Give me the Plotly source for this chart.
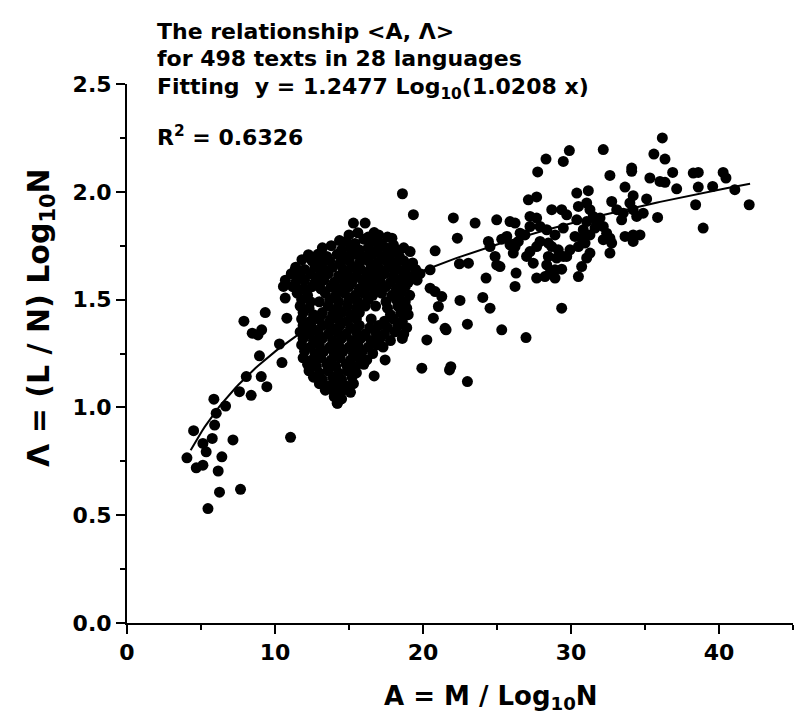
import plotly.graph_objects as go
import numpy as np

# ---- data ----
# left arm of the cloud (A < ~11.5)
low_points = [
    (8.46, 1.344), (8.85, 1.336), (9.10, 1.360), (7.90, 1.400), (10.30, 1.294),
    (8.95, 1.239), (10.47, 1.208), (8.06, 1.143), (9.07, 1.143), (9.45, 1.096),
    (7.60, 1.073), (8.39, 1.056), (5.87, 1.038), (6.66, 1.006), (6.03, 0.973),
    (5.92, 0.918), (4.50, 0.892), (5.76, 0.856), (5.13, 0.833), (7.16, 0.849),
    (5.35, 0.794), (4.05, 0.766), (6.41, 0.771), (5.13, 0.732), (4.68, 0.720),
    (6.16, 0.705), (6.25, 0.607), (7.67, 0.620), (5.47, 0.531), (11.05, 0.861),
    (9.34, 1.440), (10.80, 1.414), (10.57, 1.561), (10.69, 1.507), (11.36, 1.638),
    (11.82, 1.685), (12.26, 1.708),
]

# edge points around the dense core
core_edge_points = [
    (18.61, 1.991), (19.35, 1.894), (15.30, 1.855), (16.09, 1.855), (16.70, 1.811),
    (14.36, 1.774), (17.90, 1.785), (18.00, 1.754), (19.13, 1.723), (20.82, 1.726),
    (20.48, 1.638), (20.48, 1.553), (21.27, 1.514), (21.49, 1.367), (20.26, 1.313),
    (19.92, 1.182), (21.79, 1.174), (17.44, 1.220), (16.70, 1.146), (14.22, 1.019),
    (14.40, 1.073), (23.00, 1.120),
]

# dense core (A ~ 11-20)
core_points = [
    (15.0, 1.80), (15.6, 1.81), (16.3, 1.79), (17.0, 1.80), (17.6, 1.79),
    (14.8, 1.77), (15.4, 1.76), (16.0, 1.78), (16.6, 1.77), (17.2, 1.76),
    (13.2, 1.74), (13.8, 1.75), (14.5, 1.73), (15.1, 1.74), (15.7, 1.73), (16.3, 1.74),
    (16.9, 1.73), (17.5, 1.74), (18.2, 1.73), (18.7, 1.74),
    (12.9, 1.71), (13.5, 1.70), (14.2, 1.71), (14.8, 1.70), (15.4, 1.71), (16.0, 1.70),
    (16.6, 1.71), (17.2, 1.70), (17.8, 1.71), (18.4, 1.70),
    (12.5, 1.68), (13.1, 1.67), (13.7, 1.68), (14.4, 1.67), (15.0, 1.68), (15.7, 1.67),
    (16.3, 1.68), (16.9, 1.67), (17.5, 1.68), (18.1, 1.67), (18.7, 1.68), (19.3, 1.67),
    (11.4, 1.65), (12.0, 1.64), (12.7, 1.65), (13.3, 1.64), (13.9, 1.65), (14.6, 1.64),
    (15.2, 1.65), (15.8, 1.64), (16.5, 1.65), (17.1, 1.64), (17.7, 1.65), (18.3, 1.64),
    (18.9, 1.65), (19.5, 1.64),
    (11.1, 1.62), (11.7, 1.61), (12.4, 1.62), (13.0, 1.61), (13.6, 1.62), (14.3, 1.61),
    (14.9, 1.62), (15.5, 1.61), (16.2, 1.62), (16.8, 1.61), (17.4, 1.62), (18.0, 1.61),
    (18.7, 1.62), (19.3, 1.61), (19.8, 1.62),
    (10.7, 1.59), (11.4, 1.58), (12.0, 1.59), (12.7, 1.58), (13.3, 1.59), (14.0, 1.58),
    (14.6, 1.59), (15.2, 1.58), (15.9, 1.59), (16.5, 1.58), (17.1, 1.59), (17.8, 1.58),
    (18.4, 1.59), (19.0, 1.58), (19.6, 1.59),
    (11.2, 1.56), (11.9, 1.55), (12.5, 1.56), (13.1, 1.55), (13.8, 1.56), (14.4, 1.55),
    (15.0, 1.56), (15.7, 1.55), (16.3, 1.56), (16.9, 1.55), (17.5, 1.56), (18.2, 1.55),
    (18.8, 1.56),
    (11.5, 1.53), (12.2, 1.52), (13.4, 1.53), (14.1, 1.52), (14.7, 1.53), (15.4, 1.52),
    (16.0, 1.53), (16.6, 1.52), (17.2, 1.53), (17.9, 1.52), (18.5, 1.53), (19.1, 1.52),
    (11.8, 1.50), (12.4, 1.49), (13.0, 1.49), (13.7, 1.50), (14.3, 1.49), (15.0, 1.50),
    (15.6, 1.49), (16.3, 1.50), (17.5, 1.49), (18.2, 1.50), (18.8, 1.49),
    (11.7, 1.47), (12.3, 1.46), (13.6, 1.47), (14.2, 1.46), (14.9, 1.47), (15.5, 1.46),
    (16.1, 1.47), (16.8, 1.47), (17.6, 1.46), (18.3, 1.47), (18.9, 1.46),
    (11.9, 1.44), (12.6, 1.43), (13.2, 1.44), (13.9, 1.43), (14.5, 1.44), (15.1, 1.43),
    (15.7, 1.44), (17.8, 1.43), (18.5, 1.44), (19.0, 1.43),
    (11.8, 1.41), (12.4, 1.40), (13.0, 1.41), (13.7, 1.40), (14.3, 1.41), (14.9, 1.40),
    (15.5, 1.41), (16.5, 1.41), (17.4, 1.40), (18.0, 1.41), (18.6, 1.40),
    (11.9, 1.38), (12.5, 1.37), (13.2, 1.38), (13.8, 1.37), (14.4, 1.38), (15.1, 1.37),
    (15.7, 1.38), (16.4, 1.37), (17.0, 1.38), (17.6, 1.37), (18.3, 1.38), (18.9, 1.37),
    (11.7, 1.35), (12.3, 1.34), (12.9, 1.35), (13.6, 1.34), (14.2, 1.35), (14.8, 1.34),
    (15.5, 1.35), (16.1, 1.34), (16.8, 1.35), (17.4, 1.34), (18.1, 1.35), (18.7, 1.34),
    (11.9, 1.32), (12.6, 1.31), (13.2, 1.32), (13.9, 1.31), (14.5, 1.32), (15.2, 1.31),
    (15.8, 1.32), (16.5, 1.31), (17.1, 1.32), (17.8, 1.31), (18.6, 1.32),
    (11.8, 1.29), (12.4, 1.28), (13.0, 1.29), (13.7, 1.28), (14.3, 1.29), (15.0, 1.28),
    (15.6, 1.29), (16.3, 1.28), (16.9, 1.29), (17.3, 1.28),
    (12.0, 1.26), (12.7, 1.25), (13.3, 1.26), (14.0, 1.25), (14.6, 1.26), (15.3, 1.25),
    (15.9, 1.26), (16.6, 1.25),
    (11.9, 1.23), (12.5, 1.22), (13.1, 1.23), (13.8, 1.22), (14.4, 1.23), (15.1, 1.22),
    (15.7, 1.23), (16.2, 1.22),
    (12.2, 1.20), (12.8, 1.19), (13.5, 1.20), (14.1, 1.19), (14.8, 1.20), (15.4, 1.19),
    (16.0, 1.20),
    (12.3, 1.17), (13.0, 1.16), (13.6, 1.17), (14.3, 1.16), (14.9, 1.17), (15.5, 1.16),
    (12.6, 1.14), (13.2, 1.13), (13.9, 1.14), (14.5, 1.13), (15.2, 1.14),
    (13.0, 1.11), (13.6, 1.10), (14.2, 1.11), (14.8, 1.10), (15.3, 1.11),
    (13.4, 1.08), (14.0, 1.07), (14.6, 1.08), (15.1, 1.07),
    (14.0, 1.05), (14.5, 1.04), (14.2, 1.02),
]

# upper-right cloud (A > ~20)
high_points = [
    (36.17, 2.250), (29.89, 2.191), (28.31, 2.152), (29.48, 2.141), (32.18, 2.196),
    (35.60, 2.175), (36.35, 2.152), (27.75, 2.092), (32.63, 2.076), (34.10, 2.110),
    (34.10, 2.095), (36.87, 2.090), (38.26, 2.087), (38.60, 2.090), (40.28, 2.090),
    (40.47, 2.064), (35.33, 2.064), (36.01, 2.048), (36.35, 2.044), (37.14, 2.014),
    (38.60, 2.022), (39.57, 2.025), (41.07, 2.010), (42.04, 1.940), (38.42, 1.940),
    (38.93, 1.832), (33.65, 2.022), (31.17, 2.005), (30.39, 1.994), (35.11, 1.967),
    (34.20, 1.982), (35.85, 1.881), (27.12, 1.963), (27.68, 1.976), (22.05, 1.879),
    (23.52, 1.855), (24.98, 1.870), (25.88, 1.862), (26.22, 1.855), (22.32, 1.785),
    (22.46, 1.666), (23.07, 1.669), (24.42, 1.770), (24.53, 1.746), (24.87, 1.700),
    (24.98, 1.661), (25.20, 1.653), (24.26, 1.600), (26.29, 1.623), (26.22, 1.561),
    (22.50, 1.496), (24.04, 1.510), (24.53, 1.460), (25.32, 1.360), (26.96, 1.324),
    (29.37, 1.460), (23.00, 1.386), (21.56, 1.360), (21.88, 1.189), (20.82, 1.537),
    (21.04, 1.468), (20.70, 1.414),
    (28.70, 1.917), (29.37, 1.917), (29.71, 1.893), (30.39, 1.870), (27.23, 1.886),
    (27.68, 1.878), (27.91, 1.839), (27.23, 1.839), (26.89, 1.800), (28.36, 1.824),
    (28.92, 1.800), (28.47, 1.762), (28.70, 1.746), (26.56, 1.808), (26.44, 1.770),
    (26.22, 1.746), (25.88, 1.754), (26.10, 1.716), (27.00, 1.700), (27.45, 1.669),
    (27.23, 1.723), (28.36, 1.661), (28.92, 1.638), (29.37, 1.641), (29.71, 1.700),
    (29.93, 1.731), (29.48, 1.700), (30.50, 1.746), (30.27, 1.793), (30.83, 1.824),
    (31.06, 1.862), (30.50, 1.932), (31.06, 1.948), (31.28, 1.917), (31.50, 1.886),
    (31.73, 1.855), (31.96, 1.878), (32.18, 1.839), (32.41, 1.808), (32.63, 1.785),
    (32.75, 1.955), (33.09, 1.917), (33.42, 1.870), (33.53, 1.901), (33.98, 1.948),
    (34.20, 1.917), (34.44, 1.886), (34.88, 1.901), (33.65, 1.793), (34.20, 1.800),
    (34.66, 1.800), (32.18, 1.778), (32.75, 1.762), (34.20, 1.770), (31.28, 1.800),
    (31.62, 1.832), (30.72, 1.785), (30.95, 1.762), (29.48, 1.832), (27.68, 1.746),
    (27.91, 1.770), (25.66, 1.793), (25.32, 1.780), (28.47, 1.700), (29.03, 1.693),
    (29.14, 1.731), (28.92, 1.600), (28.58, 1.623), (30.50, 1.607), (30.72, 1.653),
    (31.28, 1.716), (31.06, 1.693), (32.63, 1.716), (27.68, 1.600), (28.24, 1.607),
]

# fitted curve y = FIT_A * log10(FIT_B * x), as printed on the chart
FIT_A = 1.2477
FIT_B = 1.0208
FIT_X_START = 4.3
FIT_X_END = 42.1

x_ticks = [0, 10, 20, 30, 40]
y_ticks = [0.0, 0.5, 1.0, 1.5, 2.0, 2.5]

title_lines = [
    "The relationship &lt;A, Λ&gt;",
    "for 498 texts in 28 languages",
    "Fitting  y = 1.2477 Log<sub>10</sub>(1.0208 x)",
    "R<sup>2</sup> = 0.6326",
]
x_title = "A = M / Log<sub>10</sub>N"
y_title = "Λ = (L / N) Log<sub>10</sub>N"

# ---- build ----
all_points = low_points + core_edge_points + core_points + high_points
A_vals = [p[0] for p in all_points]
L_vals = [p[1] for p in all_points]

fit_x = np.linspace(FIT_X_START, FIT_X_END, 200)
fit_y = FIT_A * np.log10(FIT_B * fit_x)

FONT = "DejaVu Sans"

fig = go.Figure()
fig.add_trace(go.Scatter(
    x=A_vals, y=L_vals, mode="markers",
    marker=dict(color="black", size=11, line=dict(width=0)),
    hoverinfo="skip", showlegend=False,
))
fig.add_trace(go.Scatter(
    x=fit_x, y=fit_y, mode="lines",
    line=dict(color="black", width=2),
    hoverinfo="skip", showlegend=False,
))

tickfont = dict(family=FONT, size=22, color="black", weight="bold")

fig.update_layout(
    width=794, height=726,
    margin=dict(l=127, r=1, t=84, b=103),
    plot_bgcolor="white", paper_bgcolor="white",
    showlegend=False,
    xaxis=dict(
        range=[0, 45], tickmode="array", tickvals=x_ticks,
        ticktext=[str(v) for v in x_ticks],
        showgrid=False, zeroline=False, showline=True, linecolor="black", linewidth=2,
        ticks="outside", ticklen=9, tickwidth=2, tickcolor="black",
        minor=dict(dtick=5, tick0=0, ticks="outside", ticklen=5, tickwidth=2,
                   tickcolor="black", showgrid=False),
        tickfont=tickfont,
    ),
    yaxis=dict(
        range=[0, 2.5], tickmode="array", tickvals=y_ticks,
        ticktext=[f"{v:.1f}" for v in y_ticks],
        showgrid=False, zeroline=False, showline=True, linecolor="black", linewidth=2,
        ticks="outside", ticklen=9, tickwidth=2, tickcolor="black",
        minor=dict(dtick=0.25, tick0=0, ticks="outside", ticklen=5, tickwidth=2,
                   tickcolor="black", showgrid=False),
        tickfont=tickfont,
    ),
)

title_font = dict(family=FONT, size=22, color="black", weight="bold")
title_y = [1.0965, 1.0470, 0.9916, 0.9040]
for text, yy in zip(title_lines, title_y):
    fig.add_annotation(
        text=text, xref="paper", yref="paper", x=0.042, y=yy,
        xanchor="left", yanchor="middle", showarrow=False, font=title_font,
    )

fig.add_annotation(
    text=x_title, xref="paper", yref="paper", x=0.5465, y=-0.1376,
    xanchor="center", yanchor="middle", showarrow=False,
    font=dict(family=FONT, size=26, color="black", weight="bold"),
)
fig.add_annotation(
    text=y_title, xref="paper", yref="paper", x=-0.129, y=0.566,
    xanchor="center", yanchor="middle", textangle=-90, showarrow=False,
    font=dict(family=FONT, size=30, color="black", weight="bold"),
)

fig.write_html("out.html")
